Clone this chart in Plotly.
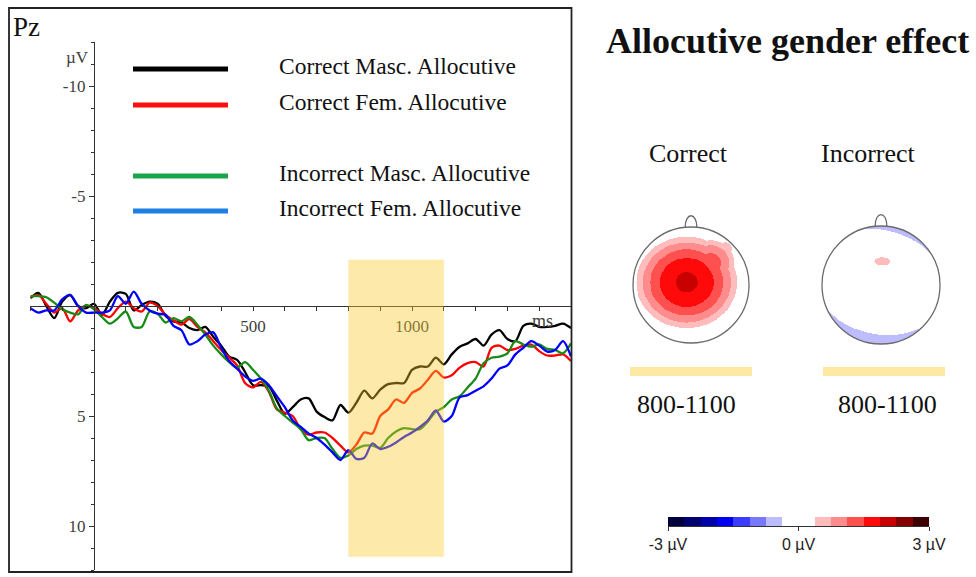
import numpy as np
import plotly.graph_objects as go

W, H = 976, 577


def fx(px):
    return px / W


def fy(py):
    return 1 - py / H


SERIF = "Liberation Serif, Times New Roman, serif"
SANS = "Liberation Sans, Arial, sans-serif"

# ---------------- ERP data (Pz) ----------------
time_ms = list(range(-200, 1501, 25))
series_names = ["Correct Masc. Allocutive", "Correct Fem. Allocutive",
                "Incorrect Masc. Allocutive", "Incorrect Fem. Allocutive"]
correct_masc = [-0.35, -0.6, 0.0, 0.55,
                -0.2, -0.5, 0.0, 0.1,
                -0.1, 0.4, -0.2, -0.6,
                -0.55, 0.2, -0.05, -0.2,
                -0.1, 0.45, 0.7, 0.75,
                1.0, 1.1, 0.95, 1.4,
                1.8, 2.3, 2.45, 3.0,
                3.6, 3.6, 3.65, 4.3,
                4.9, 4.6, 4.25, 4.2,
                4.8, 5.05, 5.2, 4.5,
                4.85, 4.4, 3.85, 4.2,
                3.8, 3.55, 3.5, 3.5,
                2.9, 2.75, 2.75, 2.35,
                2.65, 2.2, 1.85, 1.7,
                1.5, 1.8, 1.3, 1.1,
                1.5, 1.6, 0.9, 0.8,
                0.95, 0.95, 0.9, 0.8,
                1.0]
correct_fem = [-0.4, -0.5, -0.1, 0.3,
               0.1, 0.7, 0.2, 0.0,
               0.1, 0.35, 0.5, 0.1,
               -0.2, 0.1, 0.25, -0.15,
               0.0, 0.4, 0.65, 0.85,
               0.6, 0.95, 1.2, 1.6,
               2.0, 2.35, 2.7, 3.5,
               3.7, 3.45, 3.9, 4.7,
               4.85, 5.0, 5.6, 5.85,
               5.75, 5.75, 6.0, 6.35,
               6.65, 6.3, 5.75, 5.8,
               5.0, 4.7, 4.25, 4.4,
               3.95, 3.75, 3.35, 2.95,
               3.25, 3.15, 2.8, 2.6,
               2.55, 2.75, 1.9, 1.8,
               2.0, 1.95, 1.8, 1.75,
               2.05, 2.25, 2.25, 2.2,
               2.5]
incorrect_masc = [-0.45, -0.45, -0.4, -0.15,
                  0.15, 0.3, 0.38, -0.05,
                  0.15, 0.5, 0.8, 0.56,
                  0.25, 0.95, 0.95, 0.25,
                  0.35, 0.75, 0.55, 0.7,
                  0.5, 0.85, 1.3, 1.8,
                  2.2, 2.55, 2.8, 2.55,
                  2.9, 3.3, 3.85, 4.65,
                  5.0, 5.3, 5.6, 6.1,
                  6.0, 6.0, 6.5, 6.9,
                  6.8, 6.5, 6.35, 6.35,
                  6.45, 6.0, 5.7, 5.55,
                  5.6, 5.6, 5.25, 4.8,
                  4.6, 4.25, 4.1, 3.7,
                  3.3, 2.6, 2.35, 2.3,
                  2.15, 1.6, 1.75, 1.85,
                  1.75, 1.95, 2.0, 2.15,
                  1.7]
incorrect_fem = [0.1, 0.3, 0.2, 0.2,
                 -0.3, -0.5, 0.0, 0.3,
                 0.3, 0.3, 0.2, -0.45,
                 -0.1, -0.65, -0.1, 0.2,
                 0.35, 0.4, 0.9, 1.1,
                 1.75, 1.6, 1.3, 1.2,
                 1.9, 2.5, 2.85, 3.2,
                 3.4, 3.3, 3.6, 4.1,
                 4.6, 5.2, 5.5, 5.8,
                 6.0, 6.3, 6.65, 7.0,
                 6.55, 6.95, 6.9, 6.25,
                 6.5, 6.4, 6.2, 5.95,
                 5.75, 5.5, 5.2, 4.75,
                 5.25, 5.0, 4.15, 4.05,
                 3.85, 3.65, 3.3, 2.85,
                 2.7, 2.2, 1.9, 1.6,
                 1.8, 2.07, 2.0, 1.6,
                 2.3]
all_series = [correct_masc, correct_fem, incorrect_masc, incorrect_fem]
trace_colors = ["#000000", "#ff0000", "#178a17", "#0000ff"]
legend_colors = ["#000000", "#ff1010", "#1ca64c", "#1e80e2"]

window_ms = [800, 1100]
window_uV = [-2.1, 11.4]
x_tickvals = [500, 1000]
x_ticktext = ["500", "1000"]
y_tickvals = [-10, -5, 5, 10]
y_ticktext = ["-10", "-5", "5", "10"]

# ---------------- topography ----------------
cbar_centers = [-2.8125, -2.4375, -2.0625, -1.6875, -1.3125, -0.9375, -0.5625, -0.1875,
                0.1875, 0.5625, 0.9375, 1.3125, 1.6875, 2.0625, 2.4375, 2.8125]
cbar_colors = ["#00003c", "#00006e", "#0000aa", "#0000f0", "#3c3cff", "#7878ff", "#bcbcff", "#ffffff",
               "#ffffff", "#ffbcbc", "#ff8c8c", "#ff5050", "#ff0a0a", "#c80000", "#820000", "#3c0000"]
cbar_tickvals = [-3, 0, 3]
cbar_ticktext = ["-3 µV", "0 µV", "3 µV"]

map_titles = ["Correct", "Incorrect"]
map_window = "800-1100"
# dome-shaped sources: centre (u, w), amplitude (µV), radii (rx, ry) in head radii, tilt (deg)
left_offset = 0.0
left_u = [-0.07, 0.6]
left_w = [0.04, 0.62]
left_amp = [1.95, 0.42]
left_rx = [0.97, 0.35]
left_ry = [0.88, 0.35]
left_tilt = [0, 0]
right_offset = -0.5
right_u = [-0.03, 0.03]
right_w = [0.05, 0.41]
right_amp = [0.8, 0.35]
right_rx = [1.25, 0.2]
right_ry = [0.96, 0.1]
right_tilt = [-15, 0]

colorscale = []
for k, c in enumerate(cbar_colors):
    colorscale.append([k / 16, c])
    colorscale.append([(k + 1) / 16, c])

grid = np.linspace(-1.25, 1.25, 301)
GU, GW = np.meshgrid(grid, grid)


def field(offset, us, ws, amps, rxs, rys, tilts):
    z = np.full(GU.shape, offset, dtype=float)
    for u, w, a, rx, ry, t in zip(us, ws, amps, rxs, rys, tilts):
        th = np.deg2rad(t)
        du, dw = GU - u, GW - w
        xr = du * np.cos(th) + dw * np.sin(th)
        yr = -du * np.sin(th) + dw * np.cos(th)
        d2 = (xr / rx) ** 2 + (yr / ry) ** 2
        z += a * np.clip(1 - d2, 0, None)
    z[GU ** 2 + GW ** 2 > 1.0] = np.nan
    return z


z_left = field(left_offset, left_u, left_w, left_amp, left_rx, left_ry, left_tilt)
z_right = field(right_offset, right_u, right_w, right_amp, right_rx, right_ry, right_tilt)

fig = go.Figure()

for name, vals, col in zip(series_names, all_series, trace_colors):
    fig.add_trace(go.Scatter(x=time_ms, y=vals, mode="lines", name=name,
                             line=dict(color=col, width=2.3, shape="spline", smoothing=0.8),
                             showlegend=False, xaxis="x", yaxis="y"))

fig.add_trace(go.Heatmap(x=grid, y=grid, z=z_left, zmin=-3, zmax=3, colorscale=colorscale,
                         showscale=False, hoverinfo="skip", xaxis="x2", yaxis="y2"))
fig.add_trace(go.Heatmap(x=grid, y=grid, z=z_right, zmin=-3, zmax=3, colorscale=colorscale,
                         showscale=False, hoverinfo="skip", xaxis="x3", yaxis="y3"))
fig.add_trace(go.Heatmap(x=cbar_centers, y=[0], z=[cbar_centers], zmin=-3, zmax=3,
                         colorscale=colorscale, showscale=False, hoverinfo="skip",
                         xaxis="x4", yaxis="y4"))

axis_font = dict(family=SERIF, size=17, color="#404040")
head_axis = dict(range=[-1.25, 1.25], visible=False, fixedrange=True, automargin=False)

fig.update_layout(
    template="none",
    width=W, height=H, margin=dict(l=0, r=0, t=0, b=0, pad=0, autoexpand=False),
    paper_bgcolor="white", plot_bgcolor="rgba(0,0,0,0)", showlegend=False,
    xaxis=dict(domain=[fx(30.4), fx(571)], range=[-200, 1500], anchor="free", position=fy(306),
               automargin=False,
               showline=True, linecolor="#333", linewidth=1.3, showgrid=False, zeroline=False,
               tickmode="array", tickvals=x_tickvals, ticktext=x_ticktext, ticks="outside",
               ticklen=4, tickcolor="#333", tickfont=axis_font,
               minor=dict(tickmode="linear", tick0=0, dtick=100, ticks="outside", ticklen=4,
                          tickcolor="#333", showgrid=False)),
    yaxis=dict(domain=[fy(570), fy(42)], range=[12, -12], anchor="free", position=fx(94),
               automargin=False,
               showline=True, linecolor="#333", linewidth=1.3, showgrid=False, zeroline=False,
               tickmode="array", tickvals=y_tickvals, ticktext=y_ticktext, ticks="outside",
               ticklen=5, tickcolor="#333", tickfont=axis_font,
               minor=dict(tickmode="linear", tick0=0, dtick=1, ticks="outside", ticklen=3,
                          tickcolor="#333", showgrid=False)),
    xaxis2=dict(domain=[fx(691 - 72.5), fx(691 + 72.5)], anchor="y2", **head_axis),
    yaxis2=dict(domain=[fy(285 + 72.5), fy(285 - 72.5)], anchor="x2", **head_axis),
    xaxis3=dict(domain=[fx(881 - 73.75), fx(881 + 73.75)], anchor="y3", **head_axis),
    yaxis3=dict(domain=[fy(285 + 73.75), fy(285 - 73.75)], anchor="x3", **head_axis),
    xaxis4=dict(domain=[fx(668), fx(929)], range=[-3, 3], anchor="y4", showline=True,
                automargin=False,
                linecolor="#333", linewidth=1, showgrid=False, zeroline=False,
                tickmode="array", tickvals=cbar_tickvals, ticktext=cbar_ticktext,
                ticks="outside", ticklen=4, tickcolor="#333",
                tickfont=dict(family=SANS, size=16, color="#222"), fixedrange=True),
    yaxis4=dict(domain=[fy(526), fy(517)], range=[-0.5, 0.5], anchor="x4", visible=False,
                automargin=False, fixedrange=True),
)

shapes = []
# analysis window on the ERP
shapes.append(dict(type="rect", xref="x", yref="y", x0=window_ms[0], x1=window_ms[1],
                   y0=window_uV[0], y1=window_uV[1], fillcolor="rgb(250,200,40)",
                   opacity=0.4, line=dict(width=0), layer="above"))
# frame of the ERP panel
shapes.append(dict(type="rect", xref="paper", yref="paper", x0=fx(9), x1=fx(571.5),
                   y0=fy(572), y1=fy(8), line=dict(color="#222", width=1.8), layer="above"))
# legend samples
legend_y = [69, 105, 176, 211]
for yy, col in zip(legend_y, legend_colors):
    shapes.append(dict(type="line", xref="paper", yref="paper", x0=fx(133), x1=fx(228),
                       y0=fy(yy), y1=fy(yy), line=dict(color=col, width=5)))
# heads
for xa, ya in (("x2", "y2"), ("x3", "y3")):
    shapes.append(dict(type="circle", xref=xa, yref=ya, x0=-1, x1=1, y0=-1, y1=1,
                       line=dict(color="#6b6b6b", width=1.3)))
    shapes.append(dict(type="path", xref=xa, yref=ya,
                       path="M -0.1 0.995 C -0.1 1.26, 0.1 1.26, 0.1 0.995",
                       line=dict(color="#6b6b6b", width=1.3)))
# time-window bars below heads
for x0, x1 in ((630, 752), (823, 945)):
    shapes.append(dict(type="rect", xref="paper", yref="paper", x0=fx(x0), x1=fx(x1),
                       y0=fy(376), y1=fy(367), fillcolor="#fde8a4", line=dict(width=0)))
fig.update_layout(shapes=shapes)

ann = []
ann.append(dict(text="Pz", x=fx(11), y=fy(27), xref="paper", yref="paper", xanchor="left",
                yanchor="middle", showarrow=False, font=dict(family=SERIF, size=27, color="#111")))
ann.append(dict(text="µV", x=fx(77), y=fy(57), xref="paper", yref="paper", xanchor="center",
                yanchor="middle", showarrow=False, font=dict(family=SERIF, size=17, color="#404040")))
ann.append(dict(text="ms", x=1410, y=0.7, xref="x", yref="y", xanchor="center",
                yanchor="middle", showarrow=False, font=dict(family=SERIF, size=18, color="#404040")))
for yy, name in zip(legend_y, series_names):
    ann.append(dict(text=name, x=fx(277), y=fy(yy - 3), xref="paper", yref="paper",
                    xanchor="left", yanchor="middle", showarrow=False,
                    font=dict(family=SERIF, size=23.5, color="#111")))
ann.append(dict(text="<b>Allocutive gender effect</b>", x=fx(787), y=fy(41), xref="paper",
                yref="paper", xanchor="center", yanchor="middle", showarrow=False,
                font=dict(family=SERIF, size=36, color="#111")))
for cx, t in zip((688, 868), map_titles):
    ann.append(dict(text=t, x=fx(cx), y=fy(153), xref="paper", yref="paper", xanchor="center",
                    yanchor="middle", showarrow=False, font=dict(family=SERIF, size=26, color="#111")))
for cx in (686, 887):
    ann.append(dict(text=map_window, x=fx(cx), y=fy(404), xref="paper", yref="paper",
                    xanchor="center", yanchor="middle", showarrow=False,
                    font=dict(family=SERIF, size=26, color="#111")))
fig.update_layout(annotations=ann)

fig.write_html("out.html", config={"displayModeBar": False},
               post_script="document.body.style.margin='0px';document.body.style.overflow='hidden';")
